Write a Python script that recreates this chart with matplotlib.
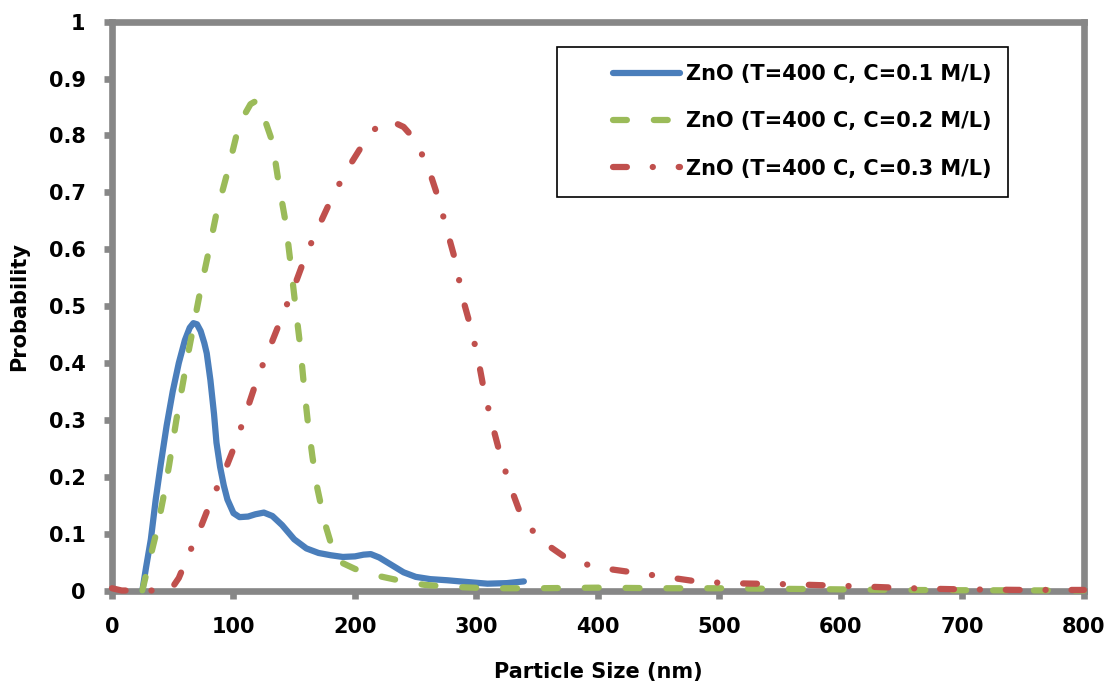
import matplotlib
matplotlib.use("Agg")
import matplotlib.pyplot as plt
from matplotlib.patches import Rectangle

# values
blue_x = [25, 28, 32, 36, 40, 45, 50, 55, 60, 64, 67, 70, 73, 76, 78, 81, 84, 86, 89, 92, 95,
          100, 105, 112, 118, 125, 132, 140, 150, 160, 170, 180, 190, 200, 207, 213, 220, 230,
          240, 250, 262, 276, 292, 309, 325, 339]
blue_y = [0, 0.04, 0.09, 0.16, 0.22, 0.29, 0.35, 0.40, 0.44, 0.462, 0.47, 0.468, 0.456, 0.435,
          0.417, 0.37, 0.31, 0.26, 0.217, 0.185, 0.16, 0.136, 0.129, 0.130, 0.134, 0.137, 0.131,
          0.115, 0.09, 0.074, 0.066, 0.062, 0.059, 0.06, 0.063, 0.064, 0.058, 0.045, 0.032,
          0.024, 0.02, 0.018, 0.015, 0.012, 0.013, 0.016]

green_x = [25, 30, 37, 42, 47, 53, 58, 63, 68, 73, 79, 86, 95, 103, 110, 114, 118, 121, 124,
           127, 132, 137, 143, 147, 151, 155, 158, 161, 165, 169, 175, 182, 188, 200, 214, 240,
           257, 275, 308, 350, 400, 450, 500, 550, 600, 650, 700, 800]
green_y = [0, 0.045, 0.106, 0.16, 0.22, 0.30, 0.36, 0.42, 0.475, 0.53, 0.59, 0.663, 0.735,
           0.805, 0.84, 0.855, 0.86, 0.855, 0.843, 0.82, 0.789, 0.719, 0.646, 0.575, 0.50,
           0.428, 0.36, 0.30, 0.235, 0.18, 0.12, 0.07, 0.05, 0.038, 0.028, 0.016, 0.01, 0.007,
           0.004, 0.004, 0.005, 0.004, 0.004, 0.003, 0.002, 0.001, 0.0005, 0]

red_x = [0, 8, 48, 55, 63, 73, 82, 93, 102, 111, 120, 130, 141, 151, 160, 171, 182, 195, 209,
         218, 229, 240, 250, 261, 269, 276, 283, 288, 295, 301, 306, 312, 319, 327, 336, 351,
         374, 398, 425, 452, 478, 504, 530, 558, 611, 665, 700, 750, 800]
red_y = [0.004, 0, 0, 0.022, 0.063, 0.111, 0.16, 0.211, 0.26, 0.317, 0.375, 0.428, 0.487,
         0.54, 0.592, 0.644, 0.695, 0.745, 0.793, 0.815, 0.826, 0.815, 0.791, 0.739, 0.687,
         0.631, 0.577, 0.519, 0.465, 0.411, 0.354, 0.30, 0.243, 0.188, 0.136, 0.091, 0.057,
         0.041, 0.033, 0.025, 0.017, 0.013, 0.012, 0.011, 0.0076, 0.0035, 0.002, 0.001, 0.001]

labels = ["ZnO (T=400 C, C=0.1 M/L)", "ZnO (T=400 C, C=0.2 M/L)", "ZnO (T=400 C, C=0.3 M/L)"]
x_ticks = [0, 100, 200, 300, 400, 500, 600, 700, 800]
y_ticks = [0, 0.1, 0.2, 0.3, 0.4, 0.5, 0.6, 0.7, 0.8, 0.9, 1]
y_tick_labels = ["0", "0.1", "0.2", "0.3", "0.4", "0.5", "0.6", "0.7", "0.8", "0.9", "1"]

plt.rcParams["font.family"] = ["DejaVu Sans"]
plt.rcParams["font.weight"] = "bold"
plt.rcParams["lines.scale_dashes"] = False

fig = plt.figure(figsize=(11.12, 6.88), dpi=100)
ax = fig.add_axes([0.1007, 0.1417, 0.8741, 0.8268])

gray = "#878787"
lw = 4.5
ax.plot(blue_x, blue_y, color="#4a7ebb", lw=lw, solid_capstyle="round",
        label=labels[0], zorder=3, clip_on=False)
ax.plot(green_x, green_y, color="#9bbb59", lw=lw, dash_capstyle="round",
        dashes=(10, 19.4), label=labels[1], zorder=3, clip_on=False)
ax.plot(red_x, red_y, color="#c0504d", lw=lw, dash_capstyle="round",
        dashes=(10, 18.6, 0.1, 18.6), label=labels[2], zorder=3, clip_on=False)

ax.set_xlim(0, 800)
ax.set_ylim(0, 1)
ax.set_xticks(x_ticks)
ax.set_yticks(y_ticks)
ax.set_yticklabels(y_tick_labels)

for s in ax.spines.values():
    s.set_color(gray)
    s.set_linewidth(4.8)
ax.tick_params(axis="both", direction="out", length=6, width=4.8, color=gray,
               labelsize=15, pad=13, top=False, right=False)
for t in ax.get_xticklabels() + ax.get_yticklabels():
    t.set_fontweight("bold")

ax.set_xlabel("Particle Size (nm)", fontsize=15, fontweight="bold", labelpad=18)
ax.set_ylabel("Probability", fontsize=15, fontweight="bold", labelpad=14)

leg = ax.legend(loc="upper left", bbox_to_anchor=(0.5154, 0.9257), frameon=False,
                fontsize=15, borderpad=0, borderaxespad=0, handlelength=3.2,
                handletextpad=0.3, labelspacing=1.31)
for t in leg.get_texts():
    t.set_fontweight("bold")
ax.add_patch(Rectangle((0.4578, 0.6918), 0.4640, 0.2637, transform=ax.transAxes,
                       fill=False, edgecolor="black", lw=1.2, zorder=4, clip_on=False))

fig.savefig("out.png", dpi=100)
